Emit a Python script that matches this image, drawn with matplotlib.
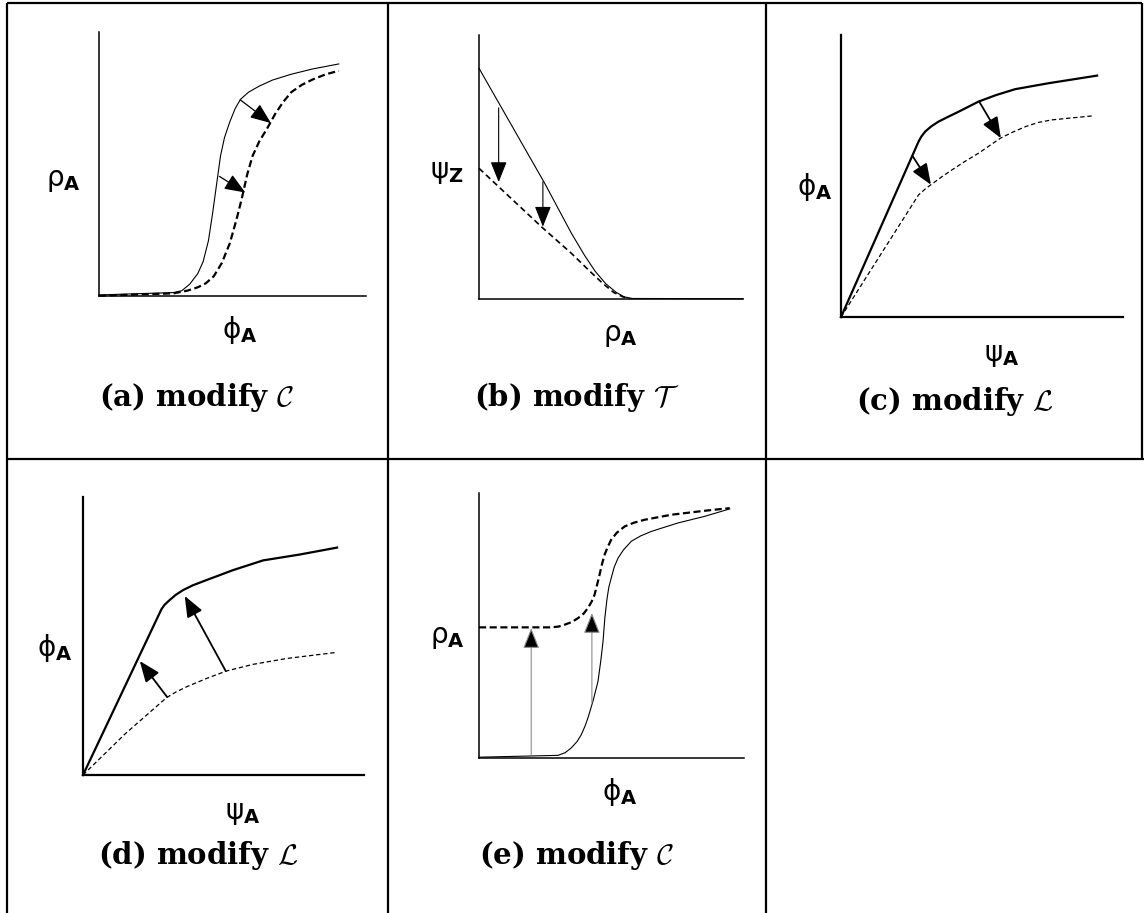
import matplotlib
matplotlib.use("Agg")
import matplotlib.pyplot as plt

W, H = 1144, 913
DPI = 100

# ---------------- curve data (normalised axes, 0..1) ----------------
# (a) modify C : rho_A versus phi_A
a_solid_x = [0.0, 0.279, 0.31, 0.34, 0.37, 0.39, 0.41, 0.425, 0.44, 0.455, 0.47, 0.49, 0.51, 0.53, 0.56, 0.60, 0.65, 0.72, 0.80, 0.898]
a_solid_y = [0.004, 0.013, 0.02, 0.045, 0.085, 0.13, 0.21, 0.31, 0.42, 0.53, 0.60, 0.66, 0.71, 0.745, 0.772, 0.795, 0.818, 0.84, 0.86, 0.879]
a_dash_x = [0.0, 0.279, 0.33, 0.37, 0.40, 0.43, 0.46, 0.49, 0.515, 0.535, 0.555, 0.575, 0.60, 0.63, 0.66, 0.69, 0.72, 0.76, 0.80, 0.85, 0.898]
a_dash_y = [0.001, 0.010, 0.02, 0.033, 0.048, 0.075, 0.125, 0.20, 0.29, 0.37, 0.46, 0.53, 0.585, 0.635, 0.69, 0.735, 0.772, 0.80, 0.82, 0.84, 0.853]
a_arrows = [((0.529, 0.743), (0.644, 0.655)), ((0.451, 0.453), (0.548, 0.392))]

# (b) modify T : psi_Z versus rho_A
b_solid_x = [0.0, 0.249, 0.35, 0.40, 0.44, 0.48, 0.52, 0.55, 0.58, 1.0]
b_solid_y = [0.874, 0.438, 0.249, 0.165, 0.105, 0.058, 0.025, 0.008, 0.002, 0.001]
b_dash_x = [0.0, 0.236, 0.35, 0.42, 0.47, 0.51, 0.545, 0.57]
b_dash_y = [0.495, 0.274, 0.173, 0.105, 0.058, 0.025, 0.008, 0.002]
b_arrows = [((0.0745, 0.724), (0.0745, 0.443)), ((0.242, 0.444), (0.242, 0.274))]

# (c) modify L : phi_A versus psi_A (shift down)
c_solid_x = [0.0, 0.275, 0.285, 0.299, 0.32, 0.346, 0.38, 0.417, 0.488, 0.55, 0.618, 0.736, 0.908]
c_solid_y = [0.0, 0.622, 0.640, 0.658, 0.676, 0.693, 0.710, 0.728, 0.764, 0.787, 0.808, 0.829, 0.856]
c_dash_x = [0.0, 0.275, 0.30, 0.323, 0.36, 0.394, 0.44, 0.488, 0.565, 0.61, 0.654, 0.70, 0.748, 0.89]
c_dash_y = [0.0, 0.433, 0.455, 0.472, 0.499, 0.522, 0.552, 0.581, 0.634, 0.656, 0.675, 0.690, 0.699, 0.713]
c_arrows = [((0.255, 0.569), (0.319, 0.469)), ((0.490, 0.764), (0.567, 0.634))]

# (d) modify L : phi_A versus psi_A (shift up)
d_solid_x = [0.0, 0.279, 0.29, 0.308, 0.33, 0.356, 0.39, 0.439, 0.534, 0.641, 0.771, 0.904]
d_solid_y = [0.0, 0.596, 0.612, 0.629, 0.648, 0.665, 0.682, 0.701, 0.737, 0.772, 0.793, 0.818]
d_dash_x = [0.0, 0.150, 0.297, 0.33, 0.368, 0.439, 0.51, 0.605, 0.724, 0.902]
d_dash_y = [0.0, 0.148, 0.278, 0.298, 0.317, 0.347, 0.374, 0.398, 0.419, 0.441]
d_arrows = [((0.299, 0.281), (0.202, 0.410)), ((0.508, 0.374), (0.362, 0.644))]

# (e) modify C : rho_A versus phi_A (raised floor)
e_solid_x = [0.0, 0.298, 0.325, 0.348, 0.37, 0.386, 0.40, 0.411, 0.43, 0.449, 0.46, 0.468, 0.475, 0.483, 0.49, 0.499,
             0.51, 0.525, 0.545, 0.575, 0.61, 0.65, 0.751, 0.852, 0.946]
e_solid_y = [0.003, 0.010, 0.02, 0.038, 0.062, 0.088, 0.12, 0.151, 0.214, 0.289, 0.37, 0.44, 0.53, 0.60, 0.645, 0.679,
             0.72, 0.755, 0.785, 0.818, 0.838, 0.855, 0.887, 0.912, 0.940]
e_dash_x = [0.0, 0.273, 0.30, 0.323, 0.35, 0.374, 0.395, 0.411, 0.425, 0.436, 0.446, 0.455, 0.465, 0.474, 0.485,
            0.499, 0.52, 0.55, 0.585, 0.625, 0.726, 0.852, 0.946]
e_dash_y = [0.493, 0.493, 0.496, 0.503, 0.513, 0.528, 0.545, 0.566, 0.59, 0.616, 0.655, 0.692, 0.735, 0.767, 0.795,
            0.824, 0.85, 0.874, 0.888, 0.899, 0.918, 0.933, 0.943]
e_arrows = [((0.197, 0.013), (0.197, 0.490)), ((0.426, 0.208), (0.426, 0.547))]

captions = [r"(a) modify $\mathcal{C}$", r"(b) modify $\mathcal{T}$", r"(c) modify $\mathcal{L}$",
            r"(d) modify $\mathcal{L}$", r"(e) modify $\mathcal{C}$"]
ylabels = [r"$\mathrm{ρ}_{\mathbf{A}}$", r"$\mathrm{ψ}_{\mathbf{Z}}$", r"$\mathrm{ϕ}_{\mathbf{A}}$",
           r"$\mathrm{ϕ}_{\mathbf{A}}$", r"$\mathrm{ρ}_{\mathbf{A}}$"]
xlabels = [r"$\mathrm{ϕ}_{\mathbf{A}}$", r"$\mathrm{ρ}_{\mathbf{A}}$", r"$\mathrm{ψ}_{\mathbf{A}}$",
           r"$\mathrm{ψ}_{\mathbf{A}}$", r"$\mathrm{ϕ}_{\mathbf{A}}$"]

fig = plt.figure(figsize=(W / DPI, H / DPI), dpi=DPI)
fig.patch.set_facecolor("white")

# full-figure overlay in pixel coordinates for the table rules and text
frame = fig.add_axes([0, 0, 1, 1])
frame.set_xlim(0, W)
frame.set_ylim(H, 0)
frame.axis("off")
rule = dict(color="black", lw=1.6, solid_capstyle="butt")
frame.plot([7, 1142], [3, 3], **rule)
frame.plot([7, 7], [3, 913], **rule)
frame.plot([388, 388], [3, 913], **rule)
frame.plot([766, 766], [3, 913], **rule)
frame.plot([1142, 1142], [3, 459], **rule)
frame.plot([7, 1144], [459, 459], **rule)


def panel(box, spine_lw):
    x0, y0, x1, y1 = box
    ax = fig.add_axes([x0 / W, 1 - y1 / H, (x1 - x0) / W, (y1 - y0) / H])
    ax.set_xlim(0, 1)
    ax.set_ylim(0, 1)
    ax.set_xticks([])
    ax.set_yticks([])
    ax.patch.set_alpha(0)
    for s in ("top", "right"):
        ax.spines[s].set_visible(False)
    for s in ("left", "bottom"):
        ax.spines[s].set_linewidth(spine_lw)
        ax.spines[s].set_color("black")
    return ax


def arrows(ax, pairs, lw, shaft="black", scale=17):
    for (tail, tip) in pairs:
        ax.annotate("", xy=tip, xytext=tail,
                    arrowprops=dict(arrowstyle="-|>,head_length=0.75,head_width=0.3",
                                    mutation_scale=scale, lw=lw, ec=shaft, fc="black",
                                    shrinkA=0, shrinkB=0))


boxes = [(99, 32, 366, 296), (479, 35, 743, 299), (841, 35, 1123, 317),
         (83, 497, 364, 775), (479, 493, 744, 758)]
ylab_pos = [(63, 180), (447, 172), (815, 187), (55, 648), (447, 637)]
xlab_pos = [(240, 330), (620, 335), (1002, 355), (243, 813), (620, 792)]
cap_pos = [(197, 398), (577, 398), (955, 402), (198, 855), (577, 855)]

dash_thin = (0, (3.5, 2.2))
dash_thick = (0, (3.2, 1.6))

# (a)
ax = panel(boxes[0], 1.1)
ax.plot(a_solid_x, a_solid_y, color="black", lw=0.8, clip_on=False)
ax.plot(a_dash_x, a_dash_y, color="black", lw=1.6, ls=dash_thick, clip_on=False)
arrows(ax, a_arrows, 0.9)

# (b)
ax = panel(boxes[1], 1.1)
ax.plot(b_solid_x, b_solid_y, color="black", lw=0.8, clip_on=False)
ax.plot(b_dash_x, b_dash_y, color="black", lw=1.2, ls=dash_thin, clip_on=False)
arrows(ax, b_arrows, 0.8)

# (c)
ax = panel(boxes[2], 1.6)
ax.plot(c_solid_x, c_solid_y, color="black", lw=1.6, clip_on=False)
ax.plot(c_dash_x, c_dash_y, color="black", lw=0.9, ls=dash_thin, clip_on=False)
arrows(ax, c_arrows, 1.3)

# (d)
ax = panel(boxes[3], 1.6)
ax.plot(d_solid_x, d_solid_y, color="black", lw=1.6, clip_on=False)
ax.plot(d_dash_x, d_dash_y, color="black", lw=0.9, ls=dash_thin, clip_on=False)
arrows(ax, d_arrows, 1.3)

# (e)
ax = panel(boxes[4], 1.1)
ax.plot(e_solid_x, e_solid_y, color="black", lw=0.8, clip_on=False)
ax.plot(e_dash_x, e_dash_y, color="black", lw=1.6, ls=dash_thick, clip_on=False)
arrows(ax, e_arrows, 0.8, shaft="0.55")

for (yx, yy), (xx, xy), yl, xl in zip(ylab_pos, xlab_pos, ylabels, xlabels):
    frame.text(yx, yy, yl, fontsize=20, ha="center", va="center", math_fontfamily="dejavusans")
    frame.text(xx, xy, xl, fontsize=20, ha="center", va="center", math_fontfamily="dejavusans")

for (cx, cy), cap in zip(cap_pos, captions):
    frame.text(cx, cy, cap, fontsize=21, ha="center", va="center",
               family="DejaVu Serif", weight="bold", math_fontfamily="cm")

fig.savefig("out.png", dpi=DPI, facecolor="white")
